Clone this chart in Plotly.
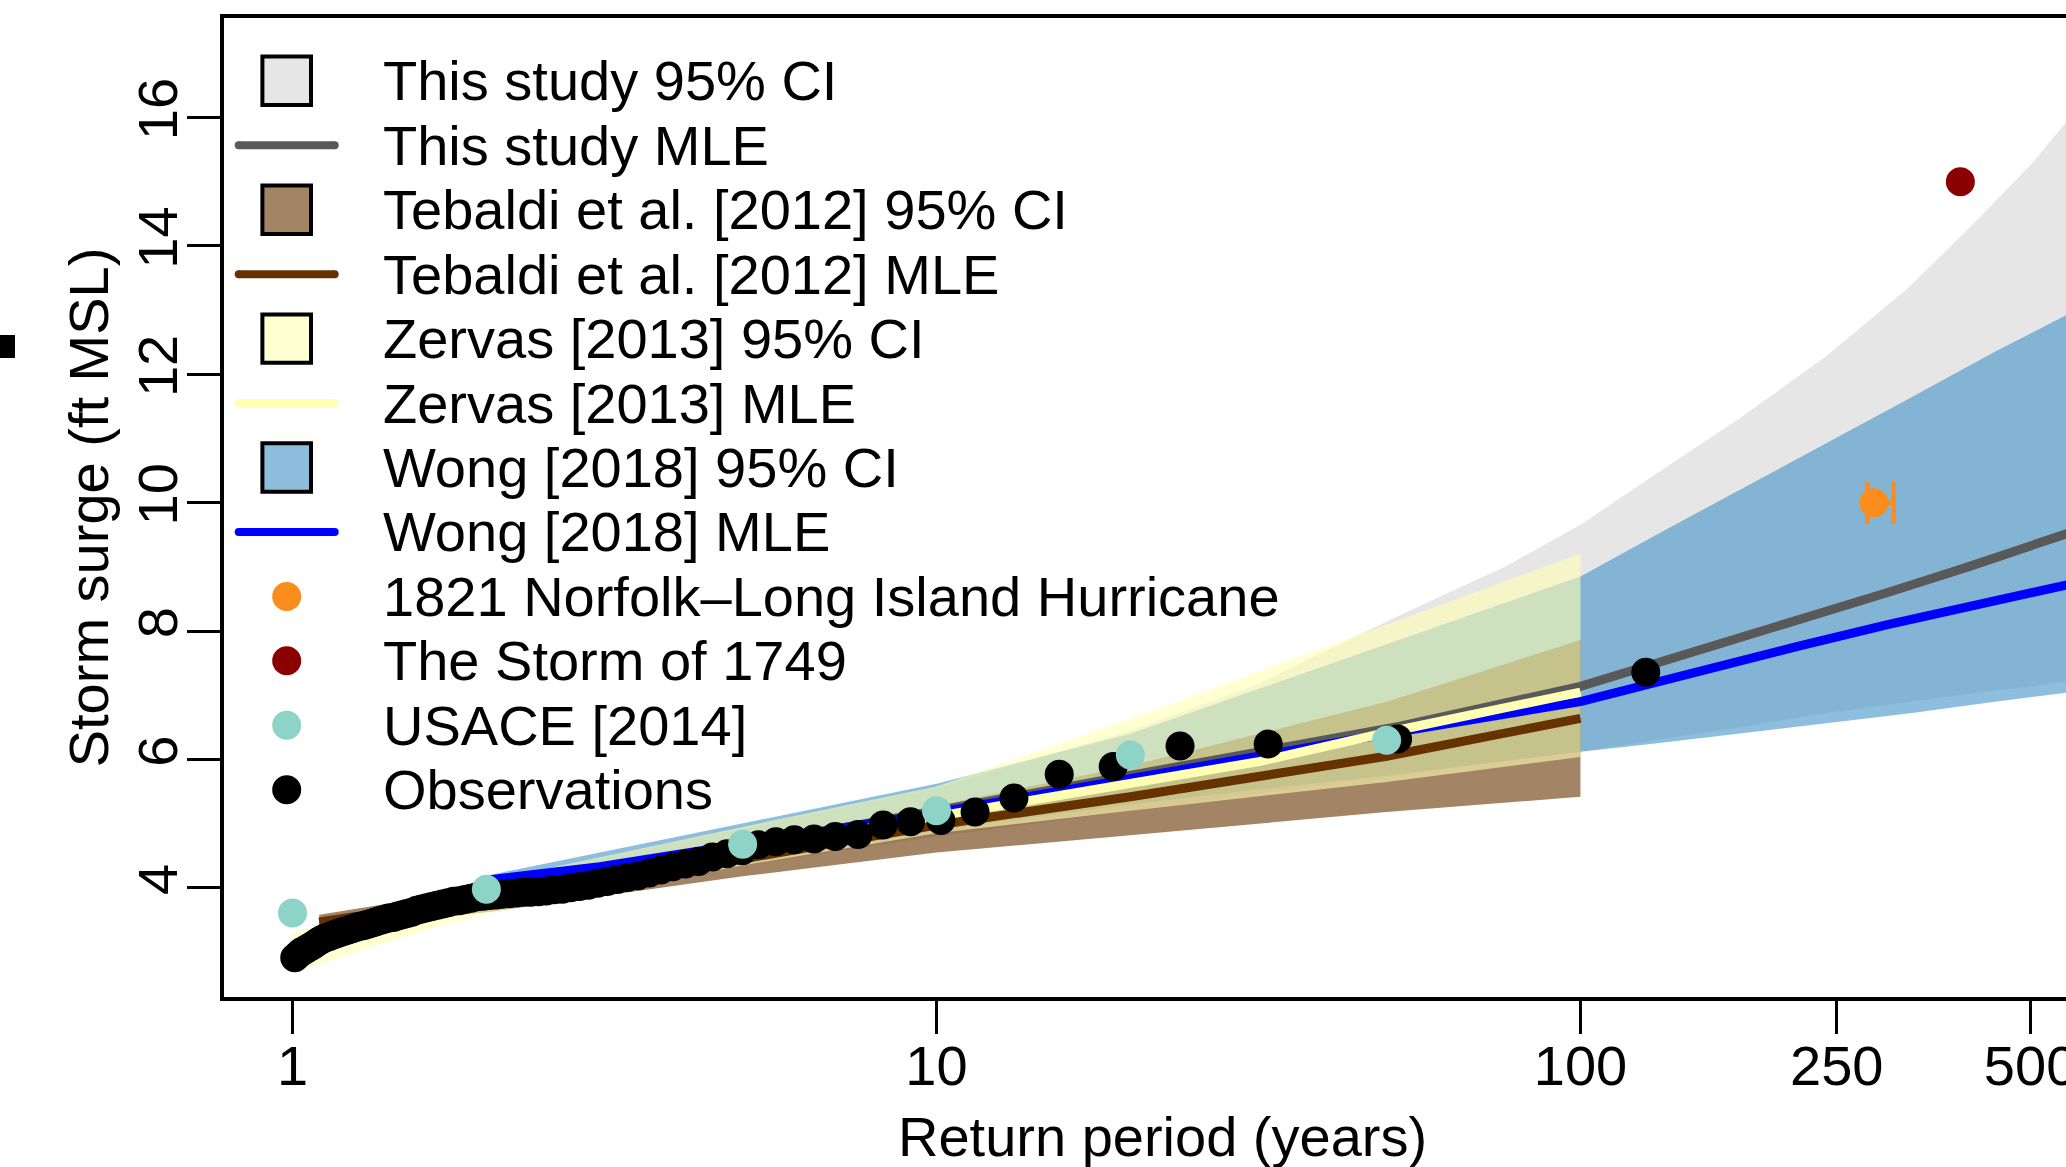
import plotly.graph_objects as go

# ---------------- data ----------------
# Observations (return period in years, storm surge in ft MSL)
obs_period = [126.3, 52.0, 32.74, 23.89, 18.81, 15.51, 13.19, 11.48, 10.16, 9.113,
              8.262, 7.556, 6.961, 6.453, 6.014, 5.631, 5.293, 4.994, 4.727, 4.487,
              4.271, 4.074, 3.894, 3.730, 3.579, 3.440, 3.311, 3.191, 3.080, 2.976,
              2.879, 2.789, 2.703, 2.623, 2.548, 2.476, 2.409, 2.344, 2.283, 2.227,
              2.172, 2.120, 2.070, 2.023, 1.978, 1.934, 1.893, 1.853, 1.815, 1.779,
              1.744, 1.710, 1.677, 1.646, 1.616, 1.587, 1.559, 1.532, 1.506, 1.481,
              1.456, 1.433, 1.410, 1.388, 1.366, 1.345, 1.325, 1.306, 1.287, 1.268,
              1.250, 1.233, 1.216, 1.199, 1.183, 1.168, 1.153, 1.138, 1.123, 1.109,
              1.095, 1.082, 1.069, 1.056, 1.044, 1.031, 1.020, 1.008]
obs_surge = [7.36, 6.32, 6.24, 6.21, 5.89, 5.77, 5.40, 5.18, 5.05, 5.03,
             4.98, 4.83, 4.80, 4.76, 4.75, 4.72, 4.67, 4.58, 4.53, 4.48,
             4.41, 4.37, 4.33, 4.28, 4.23, 4.19, 4.16, 4.13, 4.10, 4.07,
             4.04, 4.02, 4.00, 3.98, 3.97, 3.95, 3.94, 3.93, 3.93, 3.92,
             3.91, 3.90, 3.89, 3.88, 3.87, 3.86, 3.84, 3.82, 3.80, 3.79,
             3.77, 3.75, 3.73, 3.71, 3.69, 3.67, 3.65, 3.62, 3.60, 3.58,
             3.56, 3.54, 3.53, 3.51, 3.49, 3.47, 3.45, 3.43, 3.41, 3.40,
             3.38, 3.36, 3.34, 3.32, 3.30, 3.28, 3.26, 3.24, 3.22, 3.19,
             3.16, 3.12, 3.09, 3.06, 3.03, 3.00, 2.96, 2.91]

# This study
study_ci_period = [1.0, 2, 5, 10, 20, 30.7, 52.5, 76.6, 100.9, 130.6, 177, 240, 325, 408, 504, 570]
study_ci_upper = [3.1, 4.1, 4.92, 5.55, 6.45, 7.12, 8.25, 9.01, 9.68, 10.44, 11.32, 12.27, 13.37, 14.35, 15.3, 15.95]
study_ci_lower = [2.85, 3.75, 4.35, 4.8, 5.2, 5.45, 5.75, 5.98, 6.13, 6.3, 6.5, 6.72, 6.9, 7.03, 7.14, 7.22]
study_mle_period = [1.05, 2, 5, 10, 20, 30.7, 52.5, 100, 130, 219, 300, 400, 570]
study_mle_surge = [3.0, 3.95, 4.65, 5.2, 5.75, 6.1, 6.52, 7.14, 7.48, 8.17, 8.6, 9.0, 9.52]

# Tebaldi et al. [2012]
tebaldi_period = [1.1, 2, 5, 10, 20, 50, 100]
tebaldi_ci_upper = [3.58, 4.0, 4.72, 5.28, 5.9, 6.9, 7.86]
tebaldi_ci_lower = [3.35, 3.62, 4.18, 4.55, 4.82, 5.18, 5.42]
tebaldi_mle_surge = [3.47, 3.85, 4.45, 4.98, 5.42, 6.05, 6.64]

# Zervas [2013]
zervas_ci_period = [1.0, 1.5, 2, 5, 10, 20, 50, 100]
zervas_ci_upper = [3.3, 3.75, 4.1, 4.95, 5.58, 6.63, 8.1, 9.21]
zervas_ci_lower = [2.67, 3.25, 3.6, 4.35, 4.85, 5.2, 5.65, 6.04]
zervas_mle_period = [1.0, 1.5, 2, 5, 10, 20, 31.8, 50, 100]
zervas_mle_surge = [2.95, 3.45, 3.8, 4.6, 5.12, 5.65, 5.97, 6.42, 7.05]

# Wong [2018]
wong_ci_period = [2, 5, 10, 20, 30.7, 50, 100, 130.6, 177, 240, 325, 440, 570]
wong_ci_upper = [4.19, 5.0, 5.62, 6.4, 7.05, 7.8, 8.85, 9.49, 10.20, 10.91, 11.63, 12.35, 12.93]
wong_ci_lower = [3.9, 4.45, 4.9, 5.3, 5.52, 5.75, 6.12, 6.25, 6.4, 6.56, 6.72, 6.9, 7.04]
wong_mle_period = [2, 3, 5, 10, 20, 31.8, 50, 100, 150, 219, 300, 400, 570]
wong_mle_surge = [4.12, 4.33, 4.68, 5.17, 5.70, 6.07, 6.40, 6.90, 7.36, 7.77, 8.10, 8.38, 8.72]

# USACE [2014]
usace_period = [1, 2, 5, 10, 20, 50]
usace_surge = [3.61, 3.98, 4.68, 5.20, 6.07, 6.30]

# Historical storms
norfolk_period = [285.6]
norfolk_surge = [10.0]
norfolk_period_low = [278.8]
norfolk_period_high = [306.5]
storm1749_period = [389]
storm1749_surge = [15.0]

x_tick_vals = [1, 10, 100, 250, 500]
x_tick_text = ["1", "10", "100", "250", "500"]
y_tick_vals = [4, 6, 8, 10, 12, 14, 16]
y_tick_text = ["4", "6", "8", "10", "12", "14", "16"]
x_title = "Return period (years)"
y_title = "Storm surge (ft MSL)"

legend_labels = [
    "This study 95% CI", "This study MLE",
    "Tebaldi et al. [2012] 95% CI", "Tebaldi et al. [2012] MLE",
    "Zervas [2013] 95% CI", "Zervas [2013] MLE",
    "Wong [2018] 95% CI", "Wong [2018] MLE",
    "1821 Norfolk\u2013Long Island Hurricane", "The Storm of 1749",
    "USACE [2014]", "Observations",
]

# ---------------- styles ----------------
C_STUDY_CI = "#E6E6E6"
C_STUDY = "#595959"
C_TEB_CI = "rgba(102,51,0,0.6)"
C_TEB = "#663300"
C_ZER_CI = "rgba(255,255,179,0.6)"
C_ZER = "#FFFFB3"
C_WONG_CI = "rgba(66,146,198,0.6)"
C_WONG = "#0000FF"
C_NORFOLK = "#FB8D1D"
C_1749 = "#8B0000"
C_USACE = "#8DD3C7"
C_OBS = "#000000"

FONT = "Liberation Sans, Arial, Helvetica, sans-serif"
FS = 56
LW = 9
MS = 29

FIG_W, FIG_H = 2066, 1167
M_L, M_R, M_T, M_B = 224, 0, 18, 170
PLOT_W = FIG_W - M_L - M_R
PLOT_H = FIG_H - M_T - M_B


def px_x(X):
    return (X - M_L) / PLOT_W


def px_y(Y):
    return (FIG_H - M_B - Y) / PLOT_H


def band(xs, up, lo, color, name):
    xs = list(xs)
    return go.Scatter(x=xs + xs[::-1], y=list(up) + list(lo)[::-1],
                      fill="toself", fillcolor=color, mode="lines",
                      line=dict(width=0, color=color), hoverinfo="skip",
                      showlegend=False, name=name)


def line(xs, ys, color, name):
    return go.Scatter(x=xs, y=ys, mode="lines", line=dict(color=color, width=LW),
                      showlegend=False, name=name)


def pts(xs, ys, color, name, **kw):
    return go.Scatter(x=xs, y=ys, mode="markers",
                      marker=dict(size=MS, color=color, line=dict(width=0)),
                      showlegend=False, name=name, **kw)


fig = go.Figure()
fig.add_trace(band(study_ci_period, study_ci_upper, study_ci_lower, C_STUDY_CI, "This study 95% CI"))
fig.add_trace(band(wong_ci_period, wong_ci_upper, wong_ci_lower, C_WONG_CI, "Wong [2018] 95% CI"))
fig.add_trace(band(tebaldi_period, tebaldi_ci_upper, tebaldi_ci_lower, C_TEB_CI, "Tebaldi et al. [2012] 95% CI"))
fig.add_trace(band(zervas_ci_period, zervas_ci_upper, zervas_ci_lower, C_ZER_CI, "Zervas [2013] 95% CI"))
fig.add_trace(line(study_mle_period, study_mle_surge, C_STUDY, "This study MLE"))
fig.add_trace(line(tebaldi_period, tebaldi_mle_surge, C_TEB, "Tebaldi et al. [2012] MLE"))
fig.add_trace(line(wong_mle_period, wong_mle_surge, C_WONG, "Wong [2018] MLE"))
fig.add_trace(line(zervas_mle_period, zervas_mle_surge, C_ZER, "Zervas [2013] MLE"))
fig.add_trace(pts(obs_period, obs_surge, C_OBS, "Observations"))
fig.add_trace(pts(usace_period, usace_surge, C_USACE, "USACE [2014]"))
fig.add_trace(pts(norfolk_period, norfolk_surge, C_NORFOLK, "1821 Norfolk\u2013Long Island Hurricane",
                  error_x=dict(type="data", symmetric=False,
                               array=[h - v for h, v in zip(norfolk_period_high, norfolk_period)],
                               arrayminus=[v - l for l, v in zip(norfolk_period_low, norfolk_period)],
                               color=C_NORFOLK, thickness=4.5, width=21)))
fig.add_trace(pts(storm1749_period, storm1749_surge, C_1749, "The Storm of 1749"))

# ---------------- legend (drawn manually, R style) ----------------
leg_kind = ["box", "line", "box", "line", "box", "line", "box", "line", "dot", "dot", "dot", "dot"]
leg_color = [C_STUDY_CI, C_STUDY, C_TEB_CI, C_TEB, C_ZER_CI, C_ZER, C_WONG_CI, C_WONG,
             C_NORFOLK, C_1749, C_USACE, C_OBS]
LEG_Y0 = 80.8
LEG_DY = 64.45
LEG_SYM_X = 286.7
LEG_TXT_X = 381
shapes = []
annotations = []
for i, (kind, col, lab) in enumerate(zip(leg_kind, leg_color, legend_labels)):
    yc = LEG_Y0 + i * LEG_DY
    if kind == "box":
        shapes.append(dict(type="rect", xref="paper", yref="paper",
                           x0=px_x(LEG_SYM_X - 24.3), x1=px_x(LEG_SYM_X + 24.3),
                           y0=px_y(yc + 24.2), y1=px_y(yc - 24.2),
                           fillcolor=col, line=dict(color="black", width=4), layer="above"))
    elif kind == "line":
        half = 48
        shapes.append(dict(type="line", xref="paper", yref="paper",
                           x0=px_x(LEG_SYM_X - half), x1=px_x(LEG_SYM_X + half),
                           y0=px_y(yc), y1=px_y(yc),
                           line=dict(color=col, width=8), layer="above"))
        for ex in (LEG_SYM_X - half, LEG_SYM_X + half):  # round line ends
            shapes.append(dict(type="circle", xref="paper", yref="paper",
                               x0=px_x(ex - 4), x1=px_x(ex + 4),
                               y0=px_y(yc + 4), y1=px_y(yc - 4),
                               fillcolor=col, line=dict(width=0), layer="above"))
    else:
        shapes.append(dict(type="circle", xref="paper", yref="paper",
                           x0=px_x(LEG_SYM_X - 14.5), x1=px_x(LEG_SYM_X + 14.5),
                           y0=px_y(yc + 14.5), y1=px_y(yc - 14.5),
                           fillcolor=col, line=dict(width=0), layer="above"))
    annotations.append(dict(text=lab, xref="paper", yref="paper",
                            x=px_x(LEG_TXT_X), y=px_y(yc), xanchor="left", yanchor="middle",
                            showarrow=False, font=dict(size=FS, color="black", family=FONT)))

# axis titles (placed like R's mtext)
annotations.append(dict(text=x_title, xref="paper", yref="paper",
                        x=px_x(1162), y=px_y(1136.5), xanchor="center", yanchor="middle",
                        showarrow=False, font=dict(size=FS, color="black", family=FONT)))
annotations.append(dict(text=y_title, xref="paper", yref="paper", textangle=-90,
                        x=px_x(88.3), y=px_y(507), xanchor="center", yanchor="middle",
                        showarrow=False, font=dict(size=FS, color="black", family=FONT)))

# stray mark at the far left edge of the original figure
shapes.append(dict(type="rect", xref="paper", yref="paper",
                   x0=px_x(0), x1=px_x(15), y0=px_y(358), y1=px_y(335),
                   fillcolor="black", line=dict(width=0)))

fig.update_layout(
    width=FIG_W, height=FIG_H,
    margin=dict(l=M_L, r=M_R, t=M_T, b=M_B, pad=0),
    paper_bgcolor="white", plot_bgcolor="white",
    showlegend=False,
    font=dict(family=FONT, size=FS, color="black"),
    shapes=shapes, annotations=annotations,
)
fig.update_xaxes(type="log", range=[-0.1064, 2.754],
                 tickvals=x_tick_vals, ticktext=x_tick_text,
                 ticks="outside", ticklen=33, tickwidth=3, tickcolor="black",
                 ticklabelstandoff=-16, ticklabeloverflow="allow",
                 showline=True, linewidth=4, linecolor="black", mirror=True,
                 showgrid=False, zeroline=False, automargin=False,
                 tickfont=dict(size=FS, family=FONT, color="black"))
fig.update_yaxes(range=[2.30, 17.55],
                 tickvals=y_tick_vals, ticktext=y_tick_text, tickangle=-90,
                 ticks="outside", ticklen=33, tickwidth=3, tickcolor="black",
                 ticklabelstandoff=-12, ticklabeloverflow="allow",
                 showline=True, linewidth=4, linecolor="black",
                 showgrid=False, zeroline=False, automargin=False,
                 tickfont=dict(size=FS, family=FONT, color="black"))

fig.write_html("out.html",
               config={"displayModeBar": False},
               post_script="document.body.style.margin='0';document.body.style.padding='0';"
                           "document.body.style.overflow='hidden';")
